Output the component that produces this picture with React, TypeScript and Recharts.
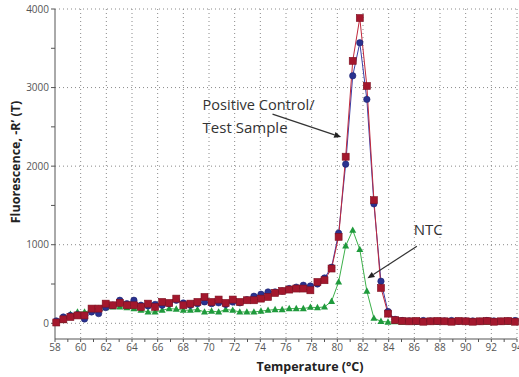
import { LineChart, Line, XAxis, YAxis, CartesianGrid, ReferenceLine, ReferenceDot } from 'recharts'

// melt curve readings (°C)
const temps = [
  58.1, 58.65, 59.2, 59.75, 60.3, 60.85, 61.4, 61.95, 62.5, 63.05, 63.6, 64.15, 64.7, 65.25, 65.8, 66.35,
  66.9, 67.45, 68.0, 68.55, 69.1, 69.65, 70.2, 70.75, 71.3, 71.85, 72.4, 72.95, 73.5, 74.05, 74.6, 75.15,
  75.7, 76.25, 76.8, 77.35, 77.9, 78.45, 79.0, 79.55, 80.1, 80.65, 81.2, 81.75, 82.3, 82.85, 83.4, 83.95,
  84.5, 85.05, 85.6, 86.15, 86.7, 87.25, 87.8, 88.35, 88.9, 89.45, 90.0, 90.55, 91.1, 91.65, 92.2, 92.75,
  93.3, 93.85,
]

const positiveControl = [
  10, 50, 80, 100, 100, 187, 187, 250, 229, 259, 229, 229, 208, 250, 208, 272,
  259, 314, 229, 250, 272, 335, 272, 302, 259, 302, 272, 293, 293, 314, 335, 386,
  411, 429, 442, 442, 420, 526, 548, 697, 1100, 2120, 3340, 3885, 3020, 1567, 450, 123,
  40, 30, 25, 30, 20, 25, 30, 25, 20, 30, 25, 20, 25, 30, 20, 25,
  30, 20,
]

const testSample = [
  30, 80, 100, 110, 55, 144, 123, 200, 230, 293, 250, 293, 230, 220, 240, 230,
  250, 293, 259, 229, 250, 272, 250, 260, 240, 270, 260, 300, 344, 370, 399, 400,
  411, 442, 460, 484, 475, 500, 577, 713, 1146, 2025, 3150, 3570, 2850, 1520, 535, 150,
  50, 35, 30, 25, 35, 30, 25, 30, 35, 25, 30, 30, 25, 35, 30, 25,
  30, 35,
]

const ntc = [
  0, 38, 115, 144, 144, 166, 187, 200, 208, 208, 200, 187, 166, 144, 144, 166,
  187, 180, 166, 166, 175, 144, 155, 144, 175, 166, 144, 144, 144, 155, 166, 175,
  175, 187, 187, 187, 204, 200, 208, 280, 526, 985, 1185, 940, 410, 65, 25, 15,
  20, 15, 20, 15, 20, 20, 15, 20, 15, 20, 20, 15, 20, 15, 20, 20,
  15, 20,
]

const xTicks = [58, 59, 60, 61, 62, 63, 64, 65, 66, 67, 68, 69, 70, 71, 72, 73, 74, 75, 76, 77, 78, 79, 80, 81, 82, 83, 84, 85, 86, 87, 88, 89, 90, 91, 92, 93, 94]
const xGrid = [60, 62, 64, 66, 68, 70, 72, 74, 76, 78, 80, 82, 84, 86, 88, 90, 92, 94]
const yTicks = [0, 500, 1000, 1500, 2000, 2500, 3000, 3500, 4000]
const yGrid = [0, 1000, 2000, 3000, 4000]

const data = temps.map((t, i) => ({ t, pos: positiveControl[i], test: testSample[i], ntc: ntc[i] }))

const font = '"Open Sans", "DejaVu Sans", sans-serif'

const Square = (p: any) => {
  if (p.cx == null || p.cy == null) return null
  return <rect key={p.key} x={p.cx - 3.5} y={p.cy - 3.5} width={7} height={7} fill="#a3172d" stroke="#7d1020" strokeWidth={0.6} />
}

const Circle = (p: any) => {
  if (p.cx == null || p.cy == null) return null
  return <circle key={p.key} cx={p.cx} cy={p.cy} r={3.2} fill="#2a3290" stroke="#1c2270" strokeWidth={0.6} />
}

const Triangle = (p: any) => {
  if (p.cx == null || p.cy == null) return null
  const { cx, cy } = p
  return <polygon key={p.key} points={`${cx},${cy - 3.8} ${cx + 3.5},${cy + 2.6} ${cx - 3.5},${cy + 2.6}`} fill="#1f9a3c" />
}

const Arrow = (p: any) => {
  const { x1, y1, x2, y2 } = p
  const a = Math.atan2(y2 - y1, x2 - x1)
  const len = 7
  const w = 3
  const bx = x2 - len * Math.cos(a)
  const by = y2 - len * Math.sin(a)
  const px = -Math.sin(a) * w
  const py = Math.cos(a) * w
  return (
    <g>
      <line x1={x1} y1={y1} x2={bx} y2={by} stroke="#333" strokeWidth={1.2} />
      <polygon points={`${x2},${y2} ${bx + px},${by + py} ${bx - px},${by - py}`} fill="#222" />
    </g>
  )
}

const noteText = (lines: string[], widths: number[]) => (p: any) => (
  <g>
    {lines.map((s, i) => (
      <text key={s} x={p.cx} y={p.cy + i * 23} fontFamily={font} fontSize={15} fill="#333"
        dominantBaseline="central" textLength={widths[i]} lengthAdjust="spacingAndGlyphs">{s}</text>
    ))}
  </g>
)

export default function App() {
  return (
    <div style={{ position: 'absolute', left: 0, top: 0, width: 519, height: 377, background: '#fff' }}>
      <LineChart width={519} height={377} data={data} margin={{ top: 9, right: 2, bottom: 8, left: 0 }}>
        <CartesianGrid horizontalValues={yGrid} verticalValues={xGrid} stroke="#8a8a8a" strokeDasharray="1 3" />
        <XAxis dataKey="t" type="number" domain={[58, 94]} ticks={xTicks} interval={0} height={30}
          tick={{ fontSize: 10, fill: '#555', fontFamily: font }}
          tickFormatter={(v: number) => (v % 2 === 0 ? String(v) : '')}
          tickSize={3} stroke="#555"
          label={{
            content: (p: any) => (
              <text x={p.viewBox.x + p.viewBox.width / 2 + 24} y={p.viewBox.y + 27} textAnchor="middle"
                dominantBaseline="central" fontFamily={font} fontSize={12.5} fontWeight={700} fill="#222">
                Temperature (°C)
              </text>
            ),
          }} />
        <YAxis type="number" domain={[-200, 4000]} ticks={yTicks} interval={0} width={55}
          tick={{ fontSize: 10, fill: '#555', fontFamily: font }}
          tickFormatter={(v: number) => (v % 1000 === 0 ? String(v) : '')}
          tickSize={4} stroke="#555"
          label={{
            content: (p: any) => {
              const x = p.viewBox.x + 15
              const y = p.viewBox.y + p.viewBox.height / 2 - 12
              return (
                <text x={x} y={y} transform={`rotate(-90, ${x}, ${y})`} textAnchor="middle"
                  dominantBaseline="central" fontFamily={font} fontSize={12.5} fontWeight={700} fill="#222">
                  Fluorescence, -R’ (T)
                </text>
              )
            },
          }} />
        <Line dataKey="ntc" type="linear" stroke="#3cb04a" strokeWidth={1} dot={Triangle} isAnimationActive={false} />
        <Line dataKey="test" type="linear" stroke="#3b3fa8" strokeWidth={1} dot={Circle} isAnimationActive={false} />
        <Line dataKey="pos" type="linear" stroke="#c0283c" strokeWidth={1} dot={Square} isAnimationActive={false} />
        <ReferenceLine segment={[{ x: 74.95, y: 2662 }, { x: 80.3, y: 2370 }]} shape={Arrow} ifOverflow="visible" />
        <ReferenceLine segment={[{ x: 86.2, y: 980 }, { x: 82.35, y: 573 }]} shape={Arrow} ifOverflow="visible" />
        <ReferenceDot x={69.5} y={2790} r={0} ifOverflow="visible"
          shape={noteText(['Positive Control/', 'Test Sample'], [112, 85])} />
        <ReferenceDot x={85.95} y={1197} r={0} ifOverflow="visible" shape={noteText(['NTC'], [29])} />
      </LineChart>
    </div>
  )
}
